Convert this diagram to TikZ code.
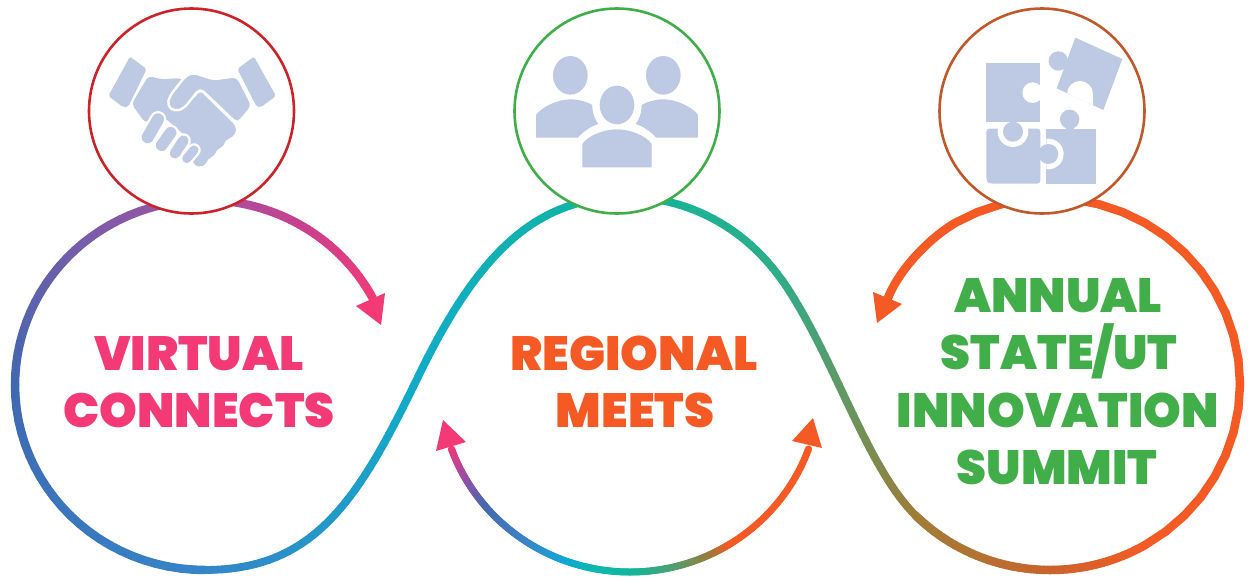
\documentclass[tikz,border=0pt]{standalone}
\usepackage{fontspec}
\newfontfamily\popf[UprightFont=* Black]{Poppins}
\definecolor{pk}{HTML}{F43A76}
\definecolor{org}{HTML}{F55A24}
\definecolor{grn}{HTML}{41AE49}
\definecolor{icon}{HTML}{BEC9E3}
\definecolor{redc}{HTML}{CB2329}
\definecolor{grnc}{HTML}{3FAE49}
\definecolor{brnc}{HTML}{C0582A}
\def\gw{8.5}
% elliptical arc with colour gradient along it
\newcommand\gradell[8]{%
  \foreach \i in {1,...,24}{%
    \pgfmathsetmacro\ta{#5+(#6-#5)*(\i-1)/24}%
    \pgfmathsetmacro\tb{#5+(#6-#5)*\i/24}%
    \pgfmathsetmacro\pc{100*(\i-.5)/24}%
    \draw[line width=\gw pt,line cap=round,color=#8!\pc!#7]
      ({#1+#3*cos(\ta)},{#2-#4*sin(\ta)}) -- ({#1+#3*cos(\tb)},{#2-#4*sin(\tb)});
  }}
% cubic bezier with colour gradient along it
\newcommand\gradbez[2]{\def\cza{#1}\def\czb{#2}\gradbezB}
\newcommand\gradbezB[8]{%
  \foreach \i in {1,...,36}{%
    \pgfmathsetmacro\ua{(\i-1)/36}%
    \pgfmathsetmacro\ub{\i/36}%
    \pgfmathsetmacro\pc{100*(\i-.5)/36}%
    \pgfmathsetmacro\xa{(1-\ua)^3*#1+3*(1-\ua)^2*\ua*#3+3*(1-\ua)*\ua^2*#5+\ua^3*#7}%
    \pgfmathsetmacro\ya{(1-\ua)^3*#2+3*(1-\ua)^2*\ua*#4+3*(1-\ua)*\ua^2*#6+\ua^3*#8}%
    \pgfmathsetmacro\xb{(1-\ub)^3*#1+3*(1-\ub)^2*\ub*#3+3*(1-\ub)*\ub^2*#5+\ub^3*#7}%
    \pgfmathsetmacro\yb{(1-\ub)^3*#2+3*(1-\ub)^2*\ub*#4+3*(1-\ub)*\ub^2*#6+\ub^3*#8}%
    \draw[line width=\gw pt,line cap=round,color=\czb!\pc!\cza] (\xa,\ya) -- (\xb,\yb);
  }}
\tikzset{
  badge/.style={circle,draw=#1,fill=white,line width=2.6pt,minimum size=205pt,inner sep=0pt},
  lbl/.style={anchor=base,inner sep=0pt,font=\popf\fontsize{48}{48}\selectfont},
}
\begin{document}
\begin{tikzpicture}[x=1pt,y=-1pt]
\useasboundingbox (0,0) rectangle (1248,576);
% ---- long ribbon
\definecolor{r0}{HTML}{F43A76}\definecolor{r1}{HTML}{C8408F}\definecolor{r2}{HTML}{9A55A5}
\definecolor{r3}{HTML}{4068B0}\definecolor{r4}{HTML}{3585C9}\definecolor{r5}{HTML}{2E95D0}
\definecolor{r6}{HTML}{10A5D8}\definecolor{r7}{HTML}{10ACC8}\definecolor{r8}{HTML}{0DB8B0}
\definecolor{r9}{HTML}{10B59D}\definecolor{r10}{HTML}{2FAD88}\definecolor{r11}{HTML}{7A9455}
\definecolor{r12}{HTML}{9E7D38}\definecolor{r13}{HTML}{C8652C}\definecolor{r14}{HTML}{F55A24}
\gradell{205}{385}{190}{185}{28}{60}{r0}{r1}
\gradell{205}{385}{190}{185}{60}{100}{r1}{r2}
\gradell{205}{385}{190}{185}{100}{180}{r2}{r3}
\gradell{205}{385}{190}{185}{180}{270}{r3}{r4}
\def\gw{7.8}
\gradbez{r4}{r7}{205}{570}{314}{570}{358}{501}{418}{377}
\gradbez{r7}{r9}{418}{377}{479}{251}{537}{197}{627}{197}
\gradell{627}{406}{194}{209}{90}{37}{r9}{r10}
\gradbez{r10}{r12}{782}{280}{833.3}{353.8}{865.9}{466.5}{915.6}{515.5}
\def\gw{8.5}
\gradell{1050}{384}{190}{186}{225}{270}{r12}{r13}
\gradell{1050}{384}{190}{186}{270}{300}{r13}{r14}
\gradell{1050}{384}{190}{186}{300}{480}{r14}{r14}
\gradbez{r14}{r14}{955}{223}{930}{238}{900}{268}{888}{298}
\fill[pk] (381,325) -- (356,306) -- (385,293) -- cycle;
\fill[org] (877,323) -- (873,292) -- (902,304) -- cycle;
% ---- bottom double arrow
\def\gw{7}
\definecolor{b1}{HTML}{B0479F}\definecolor{b2}{HTML}{7B5AAA}\definecolor{b3}{HTML}{4568B0}
\definecolor{b4}{HTML}{3B85C8}\definecolor{b5}{HTML}{10A5D8}\definecolor{b6}{HTML}{0DB8B0}
\definecolor{b7}{HTML}{12B59A}\definecolor{b8}{HTML}{50A070}\definecolor{b9}{HTML}{A07A38}
\gradell{630}{385}{190}{187}{200}{208}{r0}{b1}
\gradell{630}{385}{190}{187}{208}{214}{b1}{b2}
\gradell{630}{385}{190}{187}{214}{221}{b2}{b3}
\gradell{630}{385}{190}{187}{221}{238}{b3}{b4}
\gradell{630}{385}{190}{187}{238}{250}{b4}{b5}
\gradell{630}{385}{190}{187}{250}{260}{b5}{b6}
\gradell{630}{385}{190}{187}{260}{272}{b6}{b7}
\gradell{630}{385}{190}{187}{272}{284}{b7}{b8}
\gradell{630}{385}{190}{187}{284}{296}{b8}{b9}
\gradell{630}{385}{190}{187}{296}{302}{b9}{r14}
\gradell{630}{385}{190}{187}{302}{340}{r14}{r14}
\fill[pk] (443,420) -- (436,451) -- (466,442) -- cycle;
\fill[org] (813,418) -- (792,441) -- (822,448) -- cycle;
% ---- badges
\node[badge=redc] (hand) at (191.5,111) {};
\node[badge=grnc] (team) at (617,111) {};
\node[badge=brnc] (puzz) at (1042,111) {};
% ---- handshake icon
\begin{scope}[shift={(80,0)},x=0.3333pt,y=-0.3333pt]
  \fill[icon,rounded corners=2pt] (150,170) -- (200,207) -- (145,320) -- (130,322) -- (85,288) -- cycle;
  \fill[icon,rounded corners=2pt] (522,170) -- (472,207) -- (530,320) -- (542,322) -- (588,288) -- cycle;
  \fill[icon,rounded corners=4pt] (205,228) -- (245,238) -- (305,234) -- (340,300) -- (360,272) -- (468,378) -- (468,400) -- (448,418) -- (435,418) -- (432,440) -- (408,448) -- (405,468) -- (382,476) -- (378,495) -- (355,502) -- (338,490) -- (330,420) -- (250,350) -- (195,368) -- (155,312) -- cycle;
  \foreach \a/\b/\c/\d/\w in {234/358/203/412/12, 272/398/245/436/11.5, 310/422/285/460/10.5, 342/450/320/476/9}{
    \draw[white,line width=\w pt+4.5pt,line cap=round] (\a,\b) -- (\c,\d);
    \draw[icon,line width=\w pt,line cap=round] (\a,\b) -- (\c,\d);
  }
  \fill[icon,draw=white,line width=2.4pt,rounded corners=5pt,line join=round]
     (340,218) -- (400,238) -- (472,228) -- (518,318) -- (472,372) -- (360,265) -- (312,325) -- (285,335) -- (262,318) -- (268,290) -- (318,226) -- cycle;
\end{scope}
% ---- people icon
\begin{scope}[shift={(505,0)},x=0.3333pt,y=-0.3333pt]
  \fill[icon] (196,226) ellipse [x radius=17.3pt,y radius=19.3pt];
  \fill[icon] (475,226) ellipse [x radius=17.3pt,y radius=19.3pt];
  \fill[icon] (336,315) ellipse [x radius=17.3pt,y radius=19.3pt];
  \fill[icon] (93,413) -- (93,345) .. controls (110,320) and (160,298) .. (196,298) .. controls (220,298) and (245,305) .. (262,315) .. controls (262,340) and (270,360) .. (280,372) .. controls (255,380) and (235,395) .. (218,413) -- cycle;
  \fill[icon] (579,413) -- (579,345) .. controls (562,320) and (512,298) .. (476,298) .. controls (452,298) and (427,305) .. (410,315) .. controls (410,340) and (402,360) .. (392,372) .. controls (417,380) and (437,395) .. (454,413) -- cycle;
  \fill[icon] (232,502) -- (232,432) .. controls (250,405) and (300,388) .. (336,388) .. controls (372,388) and (422,405) .. (440,432) -- (440,502) -- cycle;
\end{scope}
% ---- puzzle icon
\begin{scope}[shift={(930,0)},x=0.3333pt,y=-0.3333pt]
  \fill[icon] (349,386) rectangle (499,551);
  \fill[icon] (419,358) circle [radius=9.7pt];
  \fill[icon] (407,370) rectangle (431,390);
  \begin{scope}
    \clip (349,386) rectangle (499,551);
    \fill[white] (355,462) circle [radius=15.3pt];
  \end{scope}
  \fill[icon,rounded corners=3pt] (169,386) -- (331,386) -- (331,551) -- (178,551) -- (169,542) -- cycle;
  \fill[icon] (355,462) circle [radius=10pt];
  \begin{scope}
    \clip (169,366) rectangle (331,551);
    \fill[white] (249,395) circle [radius=15.3pt];
  \end{scope}
  \fill[icon] (169,188) rectangle (331,366);
  \fill[icon] (249,395) circle [radius=10pt];
  \fill[white] (308,278) circle [radius=10.3pt];
  \fill[white] (331,257) rectangle (336,300);
  \fill[icon] (436,113) -- (577,177) -- (520,330) -- (380,265) -- cycle;
  \fill[icon] (385,183) circle [radius=9.7pt];
  \begin{scope}
    \clip (436,113) -- (577,177) -- (520,330) -- (380,265) -- cycle;
    \fill[white] (450,282) circle [radius=13pt];
    \fill[white] (412,286) -- (488,286) -- (488,345) -- (412,345) -- cycle;
  \end{scope}
\end{scope}
% ---- labels
\node[lbl,text=pk] (v1) at (199,370.5) {VIRTUAL};
\node[lbl,text=pk] (v2) at (199,427) {CONNECTS};
\node[lbl,text=org] (r1n) at (634,370.5) {REGIONAL};
\node[lbl,text=org] (r2n) at (635,427) {MEETS};
\node[lbl,text=grn] (a1) at (1058,312) {ANNUAL};
\node[lbl,text=grn] (a2) at (1059,369.5) {STATE/UT};
\node[lbl,text=grn] (a3) at (1058,427.5) {INNOVATION};
\node[lbl,text=grn] (a4) at (1057,484.5) {SUMMIT};
\end{tikzpicture}
\end{document}
